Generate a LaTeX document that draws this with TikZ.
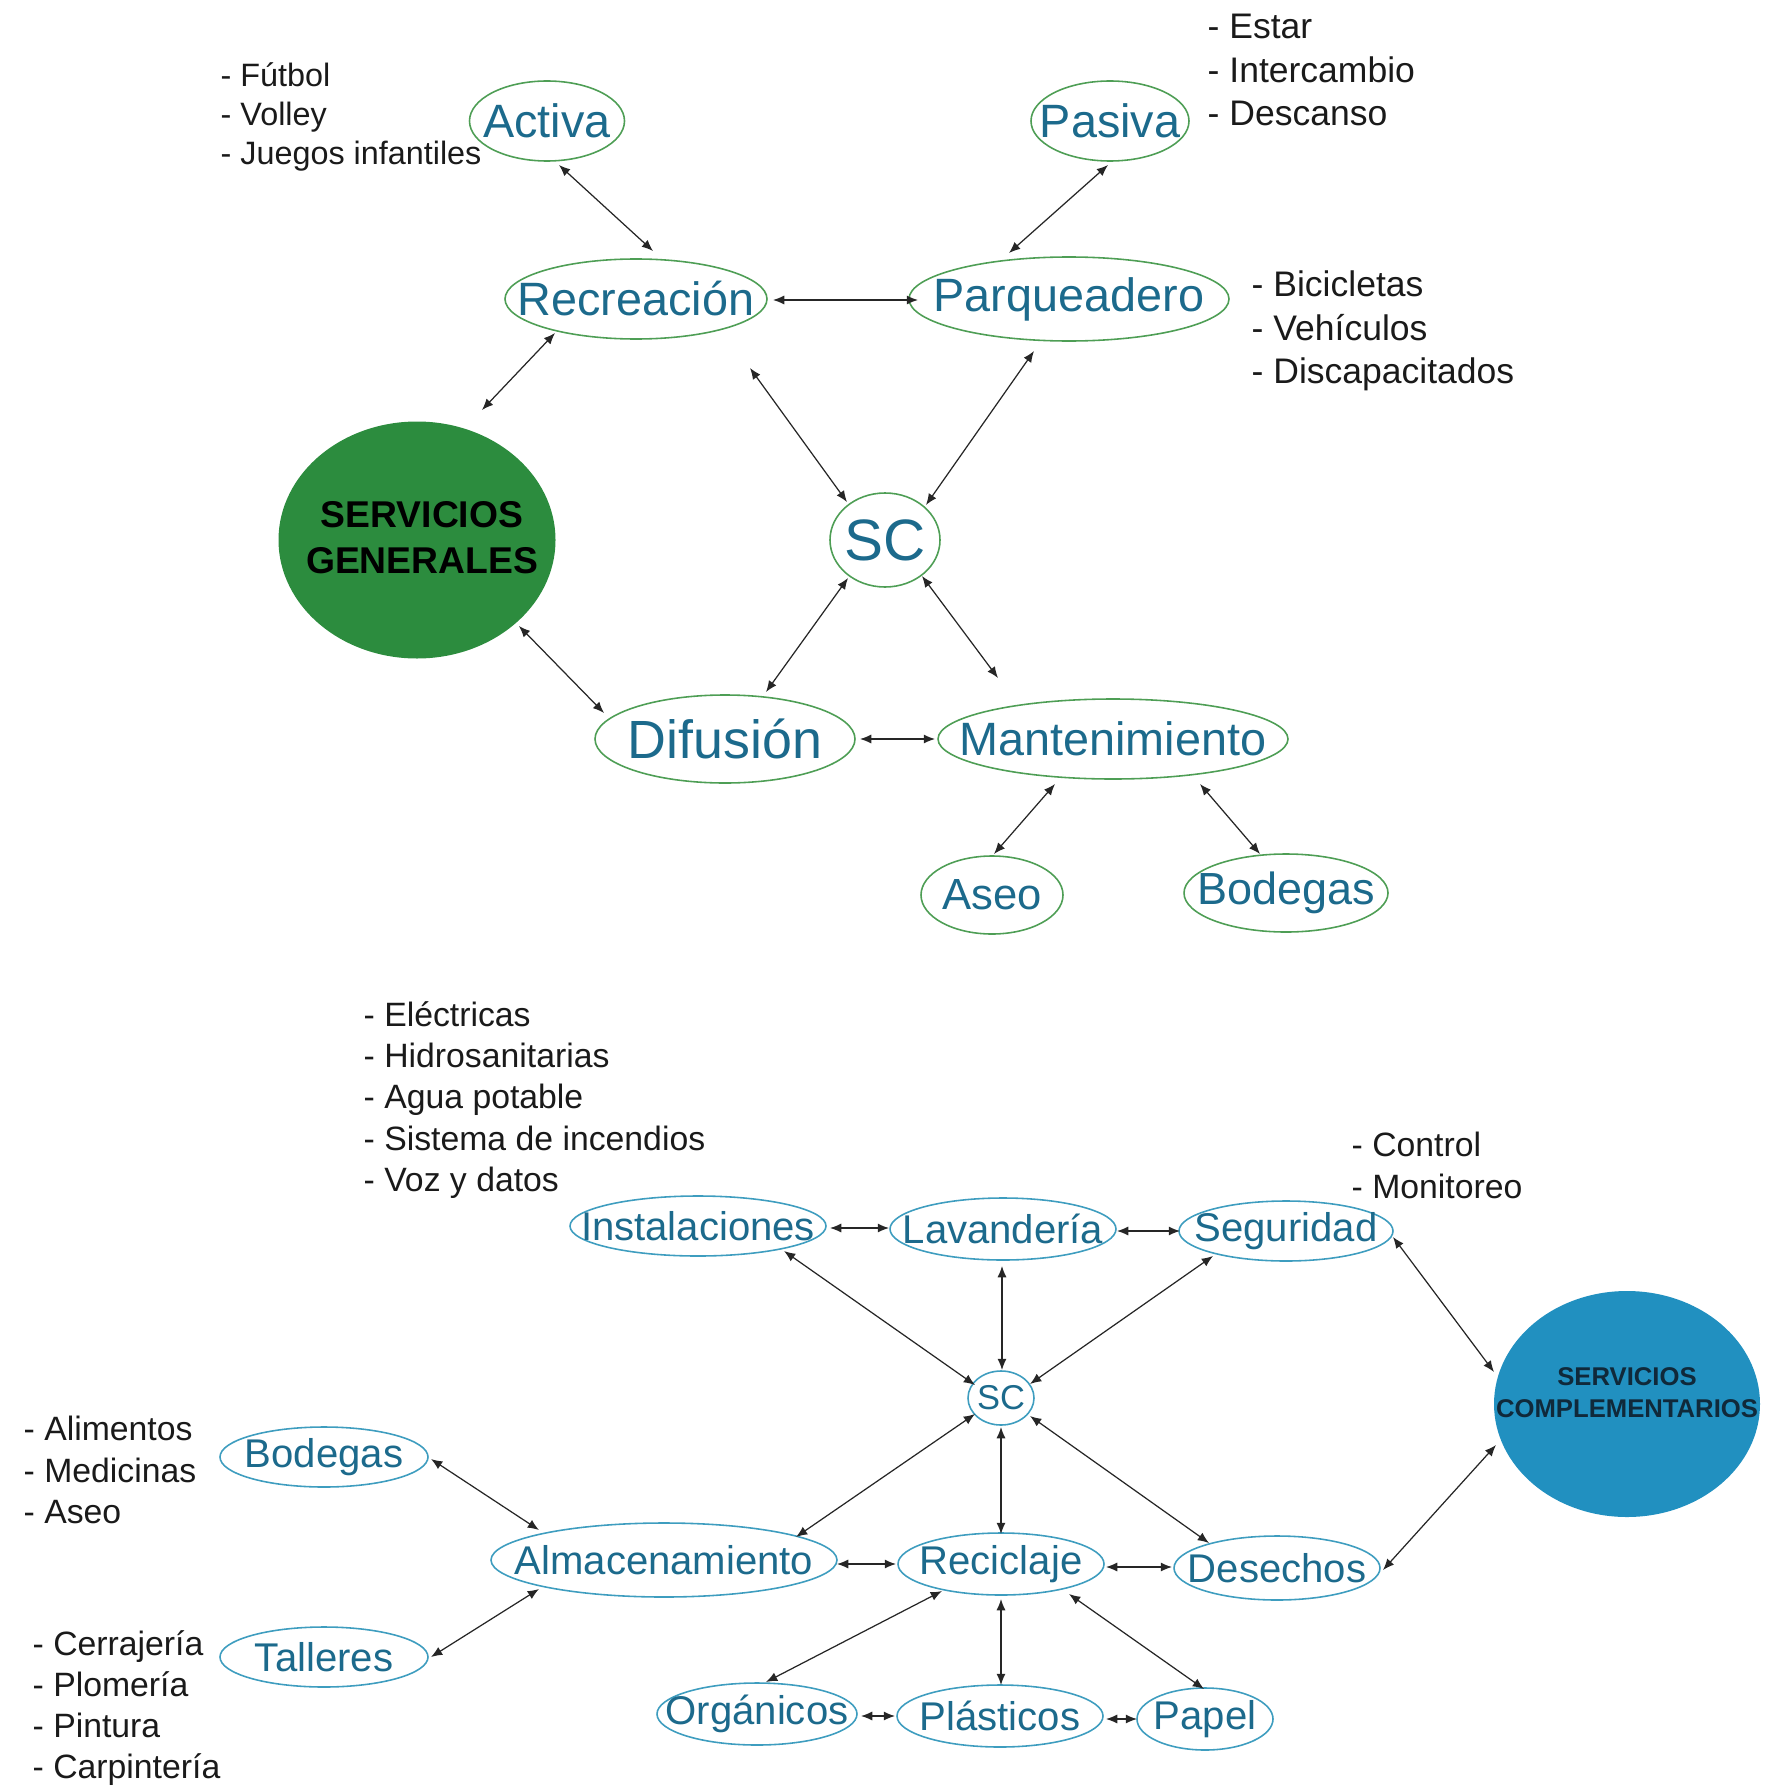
\documentclass[tikz,border=0pt]{standalone}
\usepackage{fontspec}
\setmainfont{Liberation Sans}
\usetikzlibrary{shapes.geometric,arrows.meta}

\definecolor{greenline}{HTML}{4E9E55}
\definecolor{blueline}{HTML}{3E9DBF}
\definecolor{nodetext}{HTML}{1C6A8C}
\definecolor{sgfill}{HTML}{2C8C3E}
\definecolor{scfill}{HTML}{2190C0}
\definecolor{sctext}{HTML}{10293A}
\definecolor{listtext}{HTML}{1A1A1A}

\tikzset{
  esize/.style 2 args={minimum width=#1*0.01cm, minimum height=#2*0.01cm},
  bubble/.style={ellipse, inner sep=-20pt, line width=0.45pt, text=nodetext},
  topnode/.style={bubble, draw=greenline, font=\fontsize{13.3}{14}\selectfont},
  botnode/.style={bubble, draw=blueline, font=\fontsize{11.4}{12}\selectfont},
  hub/.style={ellipse, inner sep=-20pt, draw=none},
  hubtext/.style={align=center, inner sep=0pt},
  dbl/.style={{Latex[length=3.2pt,width=2.6pt]}-{Latex[length=3.2pt,width=2.6pt]},
              line width=0.35pt, draw=black!85},
  itemlist/.style={anchor=west, align=left, inner sep=0pt, text=listtext},
}

\begin{document}
\begin{tikzpicture}[x=0.01cm, y=-0.01cm]
\useasboundingbox (0,0) rectangle (1765,1788);

% ---------- Servicios generales ----------
\node[topnode, esize={155}{80}]  (act) at (547,121)  {Activa};
\node[topnode, esize={158}{80}]  (pas) at (1110,121) {Pasiva};
\node[topnode, esize={262}{80}]  (rec) at (636,299)  {Recreación};
\node[topnode, esize={320}{84}]  (par) at (1069,299) {Parqueadero};
\node[hub, fill=sgfill, esize={277}{237},
      label={[hubtext, text=black, font=\bfseries\fontsize{10.6}{13}\selectfont,
              yshift=0.2mm, xshift=0.5mm]center:SERVICIOS\\GENERALES}] (sg) at (417,540) {};
\node[topnode, esize={110}{94}, font=\fontsize{16.6}{18}\selectfont] (sc) at (885,540) {SC};
\node[topnode, esize={260}{88}, font=\fontsize{15.3}{16}\selectfont] (dif) at (725,739) {Difusión};
\node[topnode, esize={350}{80}]  (man) at (1113,739) {Mantenimiento};
\node[topnode, esize={142}{78}, font=\fontsize{12.4}{13}\selectfont] (ase) at (992,895)  {Aseo};
\node[topnode, esize={204}{78}, font=\fontsize{12.8}{13}\selectfont] (bod) at (1286,893) {Bodegas};

\node[itemlist, font=\fontsize{9.2}{11}\selectfont] (lact) at (220,117)
  {- Fútbol\\- Volley\\- Juegos infantiles};
\node[itemlist, font=\fontsize{10.1}{12.4}\selectfont] (lpas) at (1207,70)
  {- Estar\\- Intercambio\\- Descanso};
\node[itemlist, font=\fontsize{10.1}{12.4}\selectfont] (lpar) at (1251,331)
  {- Bicicletas\\- Vehículos\\- Discapacitados};

\draw[dbl] ([shift={(12,44)}]act.center)   -- ([shift={(17,-48)}]rec.center);
\draw[dbl] ([shift={(-2,44)}]pas.center)   -- ([shift={(-60,-46)}]par.center);
\draw[dbl] ([shift={(137,1)}]rec.center)   -- ([shift={(-151,1)}]par.center);
\draw[dbl] ([shift={(-81,34)}]rec.center)  -- ([shift={(65,-130)}]sg.center);
\draw[dbl] ([shift={(114,69)}]rec.center)  -- ([shift={(-38,-38)}]sc.center);
\draw[dbl] ([shift={(-35,52)}]par.center)  -- ([shift={(41,-35)}]sc.center);
\draw[dbl] ([shift={(-37,38)}]sc.center)   -- ([shift={(41,-47)}]dif.center);
\draw[dbl] ([shift={(37,36)}]sc.center)    -- ([shift={(-115,-61)}]man.center);
\draw[dbl] ([shift={(102,86)}]sg.center)   -- ([shift={(-121,-26)}]dif.center);
\draw[dbl] ([shift={(135,0)}]dif.center)   -- ([shift={(-178,0)}]man.center);
\draw[dbl] ([shift={(-58,45)}]man.center)  -- ([shift={(2,-41)}]ase.center);
\draw[dbl] ([shift={(87,45)}]man.center)   -- ([shift={(-26,-39)}]bod.center);

% ---------- Servicios complementarios ----------
\node[botnode, esize={256}{60}] (ins)  at (698,1226)  {Instalaciones};
\node[botnode, esize={226}{62}] (lav)  at (1003,1229) {Lavandería};
\node[botnode, esize={214}{60}] (seg)  at (1286,1231) {Seguridad};
\node[botnode, esize={66}{54}, font=\fontsize{9.8}{11}\selectfont] (sct) at (1001,1398) {SC};
\node[hub, fill=scfill, esize={266}{226},
      label={[hubtext, text=sctext, font=\bfseries\fontsize{7.3}{9.1}\selectfont,
              yshift=1.1mm]center:SERVICIOS\\COMPLEMENTARIOS}] (scomp) at (1627,1404) {};
\node[botnode, esize={208}{60}] (bdg)  at (324,1457)  {Bodegas};
\node[botnode, esize={346}{74}] (alm)  at (664,1560)  {Almacenamiento};
\node[botnode, esize={206}{62}] (rcl)  at (1001,1564) {Reciclaje};
\node[botnode, esize={206}{64}] (des)  at (1277,1568) {Desechos};
\node[botnode, esize={208}{60}] (tal)  at (324,1657)  {Talleres};
\node[botnode, esize={200}{62}] (org)  at (757,1714)  {Orgánicos};
\node[botnode, esize={206}{62}] (pla)  at (1000,1716) {Plásticos};
\node[botnode, esize={136}{62}] (pap)  at (1205,1719) {Papel};

\node[itemlist, font=\fontsize{9.6}{11.7}\selectfont] (lins) at (363,1100)
  {- Eléctricas\\- Hidrosanitarias\\- Agua potable\\- Sistema de incendios\\- Voz y datos};
\node[itemlist, font=\fontsize{9.6}{11.9}\selectfont] (lseg) at (1351,1165)
  {- Control\\- Monitoreo};
\node[itemlist, font=\fontsize{9.6}{11.7}\selectfont] (lbdg) at (23,1470)
  {- Alimentos\\- Medicinas\\- Aseo};
\node[itemlist, font=\fontsize{9.6}{11.7}\selectfont] (ltal) at (32,1708)
  {- Cerrajería\\- Plomería\\- Pintura\\- Carpintería};

\draw[dbl] ([shift={(132,2)}]ins.center)   -- ([shift={(-114,-1)}]lav.center);
\draw[dbl] ([shift={(114,2)}]lav.center)   -- ([shift={(-106,0)}]seg.center);
\draw[dbl] ([shift={(86,25)}]ins.center)   -- ([shift={(-26,-13)}]sct.center);
\draw[dbl] ([shift={(-1,37)}]lav.center)   -- ([shift={(1,-28)}]sct.center);
\draw[dbl] ([shift={(-73,25)}]seg.center)  -- ([shift={(29,-14)}]sct.center);
\draw[dbl] ([shift={(107,6)}]seg.center)   -- ([shift={(-133,-32)}]scomp.center);
\draw[dbl] ([shift={(-26,16)}]sct.center)  -- ([shift={(132,-23)}]alm.center);
\draw[dbl] ([shift={(0,29)}]sct.center)    -- ([shift={(0,-30)}]rcl.center);
\draw[dbl] ([shift={(29,18)}]sct.center)   -- ([shift={(-68,-25)}]des.center);
\draw[dbl] ([shift={(107,2)}]bdg.center)   -- ([shift={(-125,-30)}]alm.center);
\draw[dbl] ([shift={(107,0)}]tal.center)   -- ([shift={(-125,29)}]alm.center);
\draw[dbl] ([shift={(173,4)}]alm.center)   -- ([shift={(-105,0)}]rcl.center);
\draw[dbl] ([shift={(105,3)}]rcl.center)   -- ([shift={(-105,-1)}]des.center);
\draw[dbl] ([shift={(106,2)}]des.center)   -- ([shift={(-131,41)}]scomp.center);
\draw[dbl] ([shift={(-59,27)}]rcl.center)  -- ([shift={(9,-32)}]org.center);
\draw[dbl] ([shift={(0,35)}]rcl.center)    -- ([shift={(1,-31)}]pla.center);
\draw[dbl] ([shift={(68,30)}]rcl.center)   -- ([shift={(-1,-30)}]pap.center);
\draw[dbl] ([shift={(104,2)}]org.center)   -- ([shift={(-105,0)}]pla.center);
\draw[dbl] ([shift={(106,3)}]pla.center)   -- ([shift={(-68,0)}]pap.center);
\end{tikzpicture}
\end{document}
